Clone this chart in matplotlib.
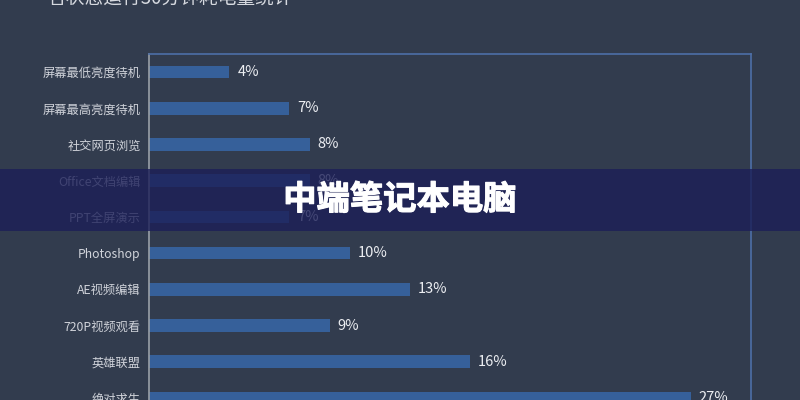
import matplotlib.pyplot as plt
import matplotlib.patheffects as pe
from matplotlib.patches import Rectangle

plt.rcParams['font.family'] = ['Noto Sans CJK SC', 'DejaVu Sans']

categories = ['屏幕最低亮度待机', '屏幕最高亮度待机', '社交网页浏览', 'Office文档编辑',
              'PPT全屏演示', 'Photoshop', 'AE视频编辑', '720P视频观看', '英雄联盟', '绝对求生']
values = [4, 7, 8, 8, 7, 10, 13, 9, 16, 27]
title = '各状态运行30分钟耗电量统计'
banner = '中端笔记本电脑'

bg = '#323c4e'
bar_color = '#36609a'

fig = plt.figure(figsize=(8, 4), dpi=100, facecolor=bg)
ax = fig.add_axes([0.18625, -0.04, 0.7525, 0.905], facecolor=bg)

ypos = list(range(len(categories)))
ax.barh(ypos, values, height=0.35, color=bar_color)
for y, v in zip(ypos, values):
    ax.text(v + 0.4, y, f'{v}%', va='center', ha='left', color='#eceef2', fontsize=10.5)

ax.set_xlim(0, 30)
ax.set_ylim(len(categories) - 0.5, -0.5)
ax.set_yticks(ypos)
ax.set_yticklabels(categories, color='#d0d3da', fontsize=8.8)
ax.set_xticks([])
ax.tick_params(axis='y', length=0, pad=6)

ax.spines['left'].set_color('#9aa0a8')
ax.spines['top'].set_color('#4d6fa8')
ax.spines['right'].set_color('#4d6fa8')
ax.spines['bottom'].set_visible(False)
for s in ax.spines.values():
    s.set_linewidth(1.2)

fig.text(0.059, 1.005, title, ha='left', va='center', color='#d6d9df', fontsize=13.5)

# overlay banner across the middle
fig.patches.append(Rectangle((0, 1 - 231 / 400), 1, 62 / 400, transform=fig.transFigure,
                             facecolor='#1c1f58', alpha=0.8, zorder=5))
fig.text(0.5, 0.5, banner, ha='center', va='center', color='white', fontsize=24,
         fontweight='heavy', zorder=6,
         path_effects=[pe.withStroke(linewidth=0.8, foreground='white')])

fig.savefig('out.png', dpi=100, facecolor=bg)
